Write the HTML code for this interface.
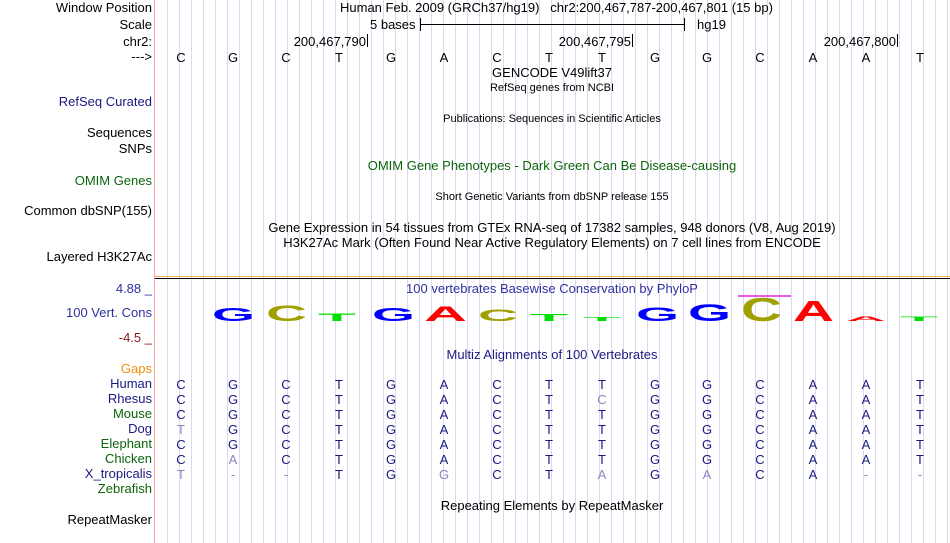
<!DOCTYPE html><html><head><style>
body{margin:0;width:950px;height:543px;background:#fff;position:relative;overflow:hidden;font-family:"Liberation Sans",Arial,sans-serif;}
.g{position:absolute;left:155px;top:0;width:795px;height:543px;background:repeating-linear-gradient(90deg,transparent 0,transparent 11px,#dcd8f0 11px,#dcd8f0 12px);background-position:1px 0;}
.p{position:absolute;left:154px;top:0;width:1px;height:543px;background:#f4a8a8;}
.t{position:absolute;white-space:nowrap;font-size:13px;line-height:14px;color:#000;}
.l{right:798px;text-align:right;}
.s{font-size:11px;}
.c{transform:translateX(-50%);}
.nv{color:#1a1a80}.gr{color:#0c640c}
</style></head><body>
<div class="g"></div><div class="p"></div>
<div class="t l" style="top:1px">Window Position</div>
<div class="t l" style="top:18px">Scale</div>
<div class="t l" style="top:35px">chr2:</div>
<div class="t l" style="top:50px">---&gt;</div>
<div class="t l nv" style="top:95px">RefSeq Curated</div>
<div class="t l" style="top:126px">Sequences</div>
<div class="t l" style="top:142px">SNPs</div>
<div class="t l gr" style="top:174px">OMIM Genes</div>
<div class="t l" style="top:204px">Common dbSNP(155)</div>
<div class="t l" style="top:250px">Layered H3K27Ac</div>
<div class="t l" style="top:282px;color:#3030a0">4.88 _</div>
<div class="t l" style="top:306px;color:#3030a0">100 Vert. Cons</div>
<div class="t l" style="top:331px;color:#8b1a1a">-4.5 _</div>
<div class="t l" style="top:362px;color:#f0900a">Gaps</div>
<div class="t l nv" style="top:377px">Human</div>
<div class="t l nv" style="top:392px">Rhesus</div>
<div class="t l gr" style="top:407px">Mouse</div>
<div class="t l nv" style="top:422px">Dog</div>
<div class="t l gr" style="top:437px">Elephant</div>
<div class="t l gr" style="top:452px">Chicken</div>
<div class="t l nv" style="top:467px">X_tropicalis</div>
<div class="t l gr" style="top:482px">Zebrafish</div>
<div class="t l" style="top:513px">RepeatMasker</div>

<div class="t" style="left:340px;top:1px">Human Feb. 2009 (GRCh37/hg19)&nbsp;&nbsp;&nbsp;chr2:200,467,787-200,467,801 (15 bp)</div>
<div class="t" style="left:370px;top:18px">5 bases</div>
<div style="position:absolute;left:420px;top:24px;width:264px;height:1px;background:#000"></div>
<div style="position:absolute;left:420px;top:18px;width:1px;height:13px;background:#000"></div>
<div style="position:absolute;left:684px;top:18px;width:1px;height:13px;background:#000"></div>
<div class="t" style="left:697px;top:18px">hg19</div>
<div class="t" style="right:584px;top:35px">200,467,790</div>
<div style="position:absolute;left:367px;top:34px;width:1px;height:13px;background:#000"></div>
<div class="t" style="right:319px;top:35px">200,467,795</div>
<div style="position:absolute;left:632px;top:34px;width:1px;height:13px;background:#000"></div>
<div class="t" style="right:54px;top:35px">200,467,800</div>
<div style="position:absolute;left:897px;top:34px;width:1px;height:13px;background:#000"></div>

<div class="t c" style="left:552px;top:66px">GENCODE V49lift37</div>
<div class="t c s" style="left:552px;top:81px">RefSeq genes from NCBI</div>
<div class="t c s" style="left:552px;top:112px">Publications: Sequences in Scientific Articles</div>
<div class="t c gr" style="left:552px;top:159px">OMIM Gene Phenotypes - Dark Green Can Be Disease-causing</div>
<div class="t c s" style="left:552px;top:190px">Short Genetic Variants from dbSNP release 155</div>
<div class="t c" style="left:552px;top:221px">Gene Expression in 54 tissues from GTEx RNA-seq of 17382 samples, 948 donors (V8, Aug 2019)</div>
<div class="t c" style="left:552px;top:236px">H3K27Ac Mark (Often Found Near Active Regulatory Elements) on 7 cell lines from ENCODE</div>
<div style="position:absolute;left:155px;top:276px;width:795px;height:1px;background:#f0b050"></div>
<div style="position:absolute;left:155px;top:278px;width:795px;height:1px;background:#000"></div>
<div class="t c" style="left:552px;top:282px;color:#3030a0">100 vertebrates Basewise Conservation by PhyloP</div>
<div class="t c nv" style="left:552px;top:348px">Multiz Alignments of 100 Vertebrates</div>
<div class="t c" style="left:552px;top:499px">Repeating Elements by RepeatMasker</div>

<svg style="position:absolute;left:0;top:0" width="950" height="543" font-family="Liberation Sans, Arial, sans-serif">
<g font-size="13" text-anchor="middle" fill="#000">
<text x="181" y="62">C</text><text x="233" y="62">G</text><text x="286" y="62">C</text><text x="339" y="62">T</text><text x="391" y="62">G</text><text x="444" y="62">A</text><text x="497" y="62">C</text><text x="549" y="62">T</text><text x="602" y="62">T</text><text x="655" y="62">G</text><text x="707" y="62">G</text><text x="760" y="62">C</text><text x="813" y="62">A</text><text x="866" y="62">A</text><text x="920" y="62">T</text>
</g>
<g font-weight="bold">
<text x="212" y="321" font-size="18" textLength="43" lengthAdjust="spacingAndGlyphs" fill="#0000ff">G</text>
<text x="266" y="321" font-size="22" textLength="41" lengthAdjust="spacingAndGlyphs" fill="#a0a000">C</text>
<text x="318" y="321" font-size="11" textLength="38" lengthAdjust="spacingAndGlyphs" fill="#00e000">T</text>
<text x="372" y="321" font-size="18" textLength="43" lengthAdjust="spacingAndGlyphs" fill="#0000ff">G</text>
<text x="424" y="321" font-size="21" textLength="43" lengthAdjust="spacingAndGlyphs" fill="#ff0000">A</text>
<text x="478" y="321" font-size="17" textLength="40" lengthAdjust="spacingAndGlyphs" fill="#a0a000">C</text>
<text x="530" y="321" font-size="10" textLength="38" lengthAdjust="spacingAndGlyphs" fill="#00e000">T</text>
<text x="583" y="321" font-size="5" textLength="38" lengthAdjust="spacingAndGlyphs" fill="#00e000">T</text>
<text x="636" y="321" font-size="19" textLength="43" lengthAdjust="spacingAndGlyphs" fill="#0000ff">G</text>
<text x="688" y="321" font-size="24" textLength="43" lengthAdjust="spacingAndGlyphs" fill="#0000ff">G</text>
<text x="741" y="321" font-size="33" textLength="41" lengthAdjust="spacingAndGlyphs" fill="#a0a000">C</text>
<text x="793" y="321" font-size="29" textLength="41" lengthAdjust="spacingAndGlyphs" fill="#ff0000">A</text>
<text x="846" y="321" font-size="6" textLength="40" lengthAdjust="spacingAndGlyphs" fill="#ff0000">A</text>
<text x="900" y="321" font-size="6" textLength="38" lengthAdjust="spacingAndGlyphs" fill="#00e000">T</text>
</g>
<line x1="738" y1="296" x2="791" y2="296" stroke="#e020e0" stroke-width="1.5"/>
<g font-size="13" text-anchor="middle" id="al"></g>
</svg>
<script>
var X=[181,233,286,339,391,444,497,549,602,655,707,760,813,866,920];
var h="CGCTGACTTGGCAAT";
var rows=["CGCTGACTCGGCAAT","CGCTGACTTGGCAAT","TGCTGACTTGGCAAT","CGCTGACTTGGCAAT","CACTGACTTGGCAAT","T--TGGCTAGACA--"];
var g=document.getElementById("al"),s="";
s+=row(h,389,h,true);
rows.forEach(function(r,i){s+=row(r,404+15*i,h,false);});
function row(r,y,h,hum){var o="";for(var i=0;i<15;i++){var c=r[i];var col=(hum||c===h[i])?"#1a1a80":"#8888c0";o+='<text x="'+X[i]+'" y="'+y+'" fill="'+col+'">'+c+'</text>';}return o;}
g.innerHTML=s;
</script>
</body></html>
